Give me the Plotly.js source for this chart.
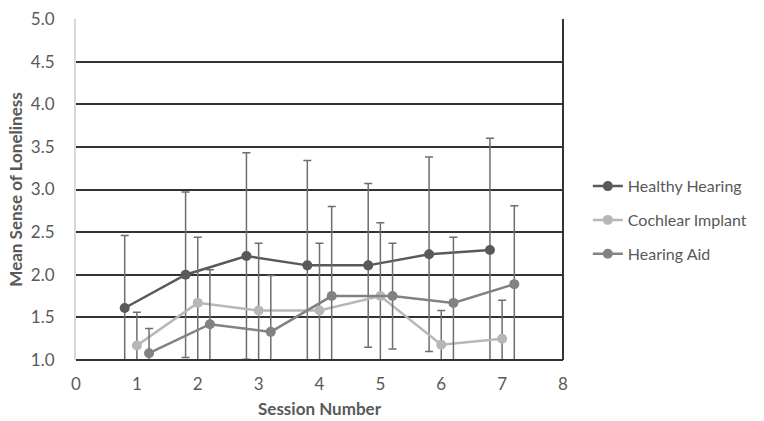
<!DOCTYPE html>
<html>
<head>
<meta charset="utf-8">
<script src="https://cdn.plot.ly/plotly-3.0.1.min.js"></script>
<style>html,body{margin:0;padding:0;background:#fff;}#chart{width:764px;height:421px;}</style>
</head>
<body>
<div id="chart"></div>
<script>
var sessions = [1, 2, 3, 4, 5, 6, 7];
var seriesNames = ["Healthy Hearing", "Cochlear Implant", "Hearing Aid"];
var healthyMean = [1.61, 2.00, 2.22, 2.11, 2.11, 2.24, 2.29];
var healthyErr  = [0.85, 0.97, 1.21, 1.23, 0.96, 1.14, 1.31];
var cochlearMean = [1.17, 1.67, 1.58, 1.58, 1.75, 1.18, 1.25];
var cochlearErr  = [0.39, 0.77, 0.79, 0.79, 0.86, 0.40, 0.45];
var aidMean = [1.08, 1.42, 1.33, 1.75, 1.75, 1.67, 1.89];
var aidErr  = [0.29, 0.64, 0.66, 1.05, 0.62, 0.77, 0.92];
var xOffsets = [-0.2, 0, 0.2];
var colors = ["#595959", "#b7b7b7", "#828282"];

var means = [healthyMean, cochlearMean, aidMean];
var errs = [healthyErr, cochlearErr, aidErr];

var traces = means.map(function(m, i) {
  return {
    type: "scatter",
    mode: "lines+markers",
    name: seriesNames[i],
    legendgroup: "g" + i,
    x: sessions.map(function(s) { return s + xOffsets[i]; }),
    y: m,
    line: {color: colors[i], width: 2.5},
    marker: {color: colors[i], size: 10},
    error_y: {type: "data", array: errs[i], visible: true, color: "#6e6e6e", thickness: 1.5, width: 4}
  };
});

var layout = {
  width: 764, height: 421,
  margin: {l: 76, r: 199, t: 19, b: 61},
  paper_bgcolor: "#ffffff",
  plot_bgcolor: "#ffffff",
  font: {family: "Lato, 'Open Sans', sans-serif", color: "#595959", size: 17},
  showlegend: true,
  legend: {
    x: 1.051, y: 0.41, xanchor: "left", yanchor: "middle",
    font: {size: 16, color: "#595959"},
    traceorder: "grouped", tracegroupgap: 10,
    bgcolor: "rgba(0,0,0,0)"
  },
  xaxis: {
    range: [0, 8], dtick: 1, tick0: 0,
    showgrid: false, zeroline: false,
    showline: false, ticks: "",
    ticklabelstandoff: 12,
    tickfont: {size: 17, color: "#595959"},
    title: {text: "Session Number", font: {size: 17, color: "#595959", weight: "bold"}, standoff: 10}
  },
  yaxis: {
    range: [1, 5], dtick: 0.5, tick0: 1,
    tickformat: ".1f",
    showgrid: true, gridcolor: "#333333", gridwidth: 2,
    zeroline: false,
    showline: true, linecolor: "#d9d9d9", linewidth: 2,
    ticks: "",
    ticklabelstandoff: 16,
    tickfont: {size: 17, color: "#595959"},
    title: {text: "Mean Sense of Loneliness", font: {size: 17, color: "#595959", weight: "bold"}, standoff: 4}
  },
  shapes: [
    {type: "line", xref: "paper", yref: "paper", x0: 1, x1: 1, y0: 0, y1: 1, line: {color: "#333333", width: 2}},
    {type: "line", xref: "paper", yref: "paper", x0: 0, x1: 1, y0: 0, y1: 0, line: {color: "#333333", width: 2}}
  ]
};

Plotly.newPlot("chart", traces, layout, {displayModeBar: false});
</script>
</body>
</html>
